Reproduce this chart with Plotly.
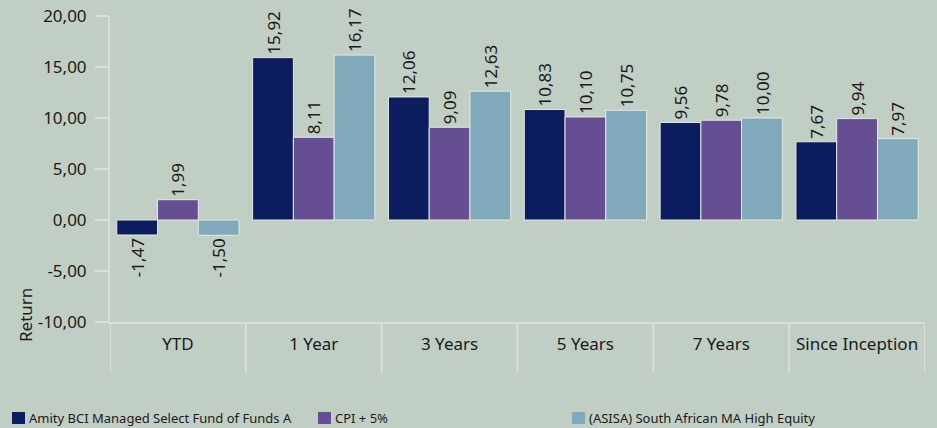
import plotly.graph_objects as go

categories = ["YTD", "1 Year", "3 Years", "5 Years", "7 Years", "Since Inception"]
series_names = [
    "Amity BCI Managed Select Fund of Funds A",
    "CPI + 5%",
    "(ASISA) South African MA High Equity",
]
fund = [-1.47, 15.92, 12.06, 10.83, 9.56, 7.67]
cpi = [1.99, 8.11, 9.09, 10.10, 9.78, 9.94]
sector = [-1.50, 16.17, 12.63, 10.75, 10.00, 7.97]
colors = ["#0B1D5E", "#664E92", "#80AABC"]
y_ticks = [-10, -5, 0, 5, 10, 15, 20]


def fmt(v):
    return f"{v:.2f}".replace(".", ",")


BG = "#C1CEC4"
LINE = "#DADDDA"
TXT = "#1A1A1A"
FONT = "Noto Sans, Open Sans, sans-serif"

W, H = 937, 428
L, R, T, B = 110, 12, 16, 106
pw, ph = W - L - R, H - T - B


def px_x(p):
    return (p - L) / pw


def px_y(p):
    return (H - B - p) / ph


fig = go.Figure()
for name, vals, col in zip(series_names, [fund, cpi, sector], colors):
    fig.add_trace(go.Bar(
        x=categories, y=vals, name=name,
        marker=dict(color=col, line=dict(color="#E4E8E4", width=1)),
        text=[fmt(v) for v in vals], texttemplate="%{text}", textposition="outside",
        textangle=-90, constraintext="none",
        textfont=dict(size=17, color=TXT, family=FONT),
        cliponaxis=False, showlegend=False,
    ))

shapes = []
for i in range(len(categories) + 1):
    shapes.append(dict(type="line", xref="x", yref="paper",
                       x0=i - 0.5, x1=i - 0.5, y0=0, y1=px_y(373),
                       line=dict(color=LINE, width=2), layer="below"))

annotations = []
legend_x = [12, 318, 572]
for name, col, lx in zip(series_names, colors, legend_x):
    shapes.append(dict(type="rect", xref="paper", yref="paper",
                       x0=px_x(lx), x1=px_x(lx + 13), y0=px_y(424), y1=px_y(412),
                       fillcolor=col, line=dict(width=0)))
    annotations.append(dict(xref="paper", yref="paper", x=px_x(lx + 15), y=px_y(418),
                            text=name, showarrow=False, xanchor="left", yanchor="middle",
                            font=dict(size=13, color=TXT, family=FONT)))

annotations.append(dict(xref="paper", yref="paper", x=px_x(25), y=px_y(315),
                        text="Return", textangle=-90, showarrow=False,
                        xanchor="center", yanchor="middle",
                        font=dict(size=17, color=TXT, family=FONT)))

fig.update_layout(
    width=W, height=H,
    margin=dict(l=L, r=R, t=T, b=B, autoexpand=False),
    paper_bgcolor=BG, plot_bgcolor=BG,
    barmode="group", bargap=0.1, bargroupgap=0,
    font=dict(family=FONT, color=TXT, size=17),
    shapes=shapes, annotations=annotations,
    showlegend=False,
)
fig.update_xaxes(
    type="category", showline=True, linecolor=LINE, linewidth=2,
    ticks="", showgrid=False, tickfont=dict(size=17, color=TXT, family=FONT),
    ticklabelstandoff=6, range=[-0.5, len(categories) - 0.5], automargin=False,
)
fig.update_yaxes(
    range=[-10, 20], tickvals=y_ticks, ticktext=[fmt(v) for v in y_ticks],
    showline=True, linecolor=LINE, linewidth=2,
    ticks="outside", ticklen=13, tickcolor=LINE, tickwidth=2,
    showgrid=False, zeroline=False, ticklabelstandoff=5,
    tickfont=dict(size=17, color=TXT, family=FONT), automargin=False,
)

fig.write_html(
    "out.html",
    config={"displayModeBar": False},
    post_script="document.body.style.margin='0';document.body.style.overflow='hidden';",
)
